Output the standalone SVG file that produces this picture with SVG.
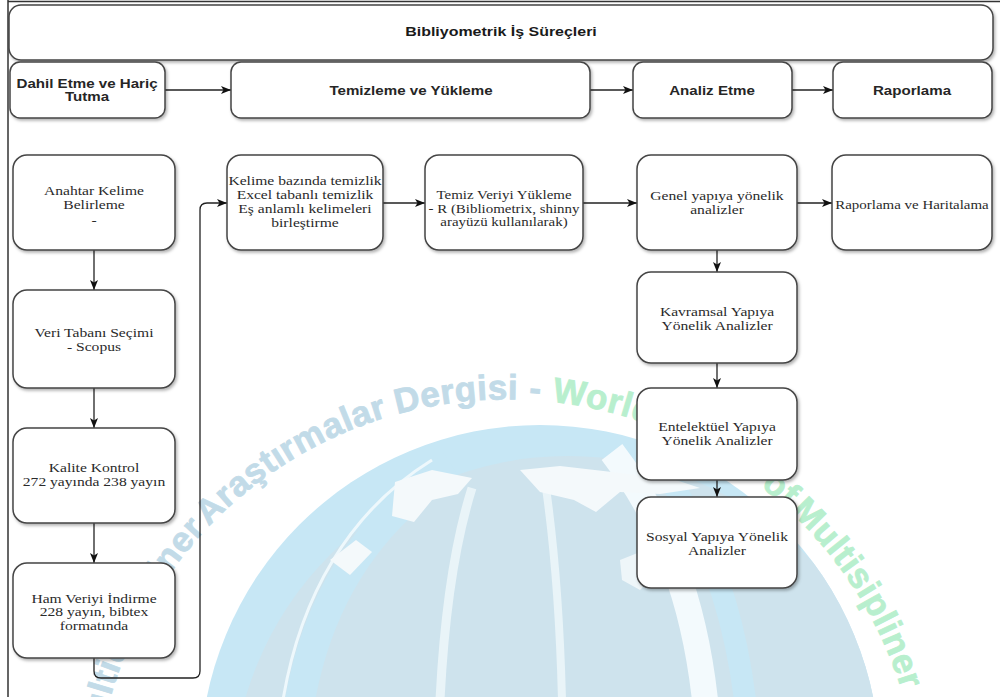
<svg xmlns="http://www.w3.org/2000/svg" width="1000" height="697" viewBox="0 0 1000 697">
<style>
.nd rect{fill:#fff;stroke:#444;stroke-width:1.5;filter:url(#sh)}
.b{font-family:"Liberation Sans",Arial,sans-serif;font-weight:bold;font-size:12.6px;fill:#262626;text-anchor:middle}
.t{font-family:"Liberation Sans",Arial,sans-serif;font-weight:bold;font-size:13.3px;fill:#1a1a1a;text-anchor:middle}
.s{font-family:"Liberation Serif","Times New Roman",serif;font-size:13px;fill:#2a2a2a;text-anchor:middle}
.ss{font-family:"Liberation Serif","Times New Roman",serif;font-size:11.5px;fill:#2a2a2a;text-anchor:middle}
.c{fill:none;stroke:#222;stroke-width:1.3;marker-end:url(#arr)}
.wm{font-family:"Liberation Sans",Arial,sans-serif;font-weight:bold;font-size:35px;letter-spacing:0.5px;stroke-width:0.8px}
.wb{fill:#c2dbe8;stroke:#c2dbe8}
.wg{fill:#b8efce;stroke:#b8efce}
</style>
<defs>
<filter id="sh" x="-10%" y="-10%" width="125%" height="130%">
<feDropShadow dx="1.5" dy="2" stdDeviation="1.4" flood-color="#000" flood-opacity="0.3"/>
</filter>
<marker id="arr" markerUnits="userSpaceOnUse" markerWidth="10" markerHeight="8" viewBox="0 0 10 8" refX="10" refY="4" orient="auto">
<path d="M0,0 L10,4 L0,8 L2.5,4 Z" fill="#111"/>
</marker>
<clipPath id="gc"><circle cx="540" cy="765" r="340"/></clipPath>
<path id="wmArc" d="M95.6,776 A413,413 0 0 1 918.4,776"/>
</defs>
<rect width="1000" height="697" fill="#fff"/>

<g id="watermark">
<circle cx="540" cy="765" r="340" fill="#c7e7f5"/>
<g clip-path="url(#gc)">
<circle cx="568" cy="792" r="336" fill="#cee3ed"/>
<path d="M300,700 C318,600 368,520 452,466" stroke="#c7e7f5" stroke-width="30" fill="none"/>
<path d="M283,700 C300,598 348,512 432,460" stroke="#eef8fc" stroke-width="3" fill="none"/>
<path d="M440,700 C444,620 454,545 472,488" stroke="#e9f4f8" stroke-width="9" fill="none"/>
<path d="M562,700 C560,620 554,545 546,488" stroke="#e9f4f8" stroke-width="8" fill="none"/>
<path d="M705,700 C694,600 664,520 612,452" stroke="#f3fafd" stroke-width="26" fill="none"/>
<path d="M745,700 C734,610 705,530 660,465" stroke="#c7e7f5" stroke-width="22" fill="none"/>
<path d="M395,482 L432,470 L472,478 L458,494 L432,500 L414,522 L392,516 Z" fill="#f4f9fb"/>
<path d="M520,470 L560,466 L612,472 L676,480 L700,488 L660,494 L620,492 L596,512 L574,500 L540,492 Z" fill="#f4f9fb"/>
<path d="M330,560 L356,540 L372,552 L350,575 Z" fill="#f4f9fb"/>
<path d="M620,560 L650,548 L664,566 L640,590 L622,580 Z" fill="#eef6f9"/>
</g>
<text class="wm wb"><textPath href="#wmArc" startOffset="30">Multidisipliner</textPath></text>
<text class="wm wb"><textPath href="#wmArc" startOffset="279">Araştırmalar</textPath></text>
<text class="wm wb"><textPath href="#wmArc" startOffset="501">Dergisi</textPath></text>
<text class="wm wb"><textPath href="#wmArc" startOffset="634">-</textPath></text>
<text class="wm wg"><textPath href="#wmArc" startOffset="657">World</textPath></text>
<text class="wm wg"><textPath href="#wmArc" startOffset="885">of</textPath></text>
<text class="wm wg" font-size="32" letter-spacing="0"><textPath href="#wmArc" startOffset="924">Multisipliner</textPath></text>
</g>

<g id="frame" stroke="#333" stroke-width="1.5" fill="none">
<path d="M8,0 V697 M8,1.5 H1000"/>
</g>

<g id="connectors">
<path class="c" d="M165,90 H231"/>
<path class="c" d="M590,90 H633"/>
<path class="c" d="M792,90 H833"/>
<path class="c" d="M94,250 V290"/>
<path class="c" d="M94,388 V428"/>
<path class="c" d="M94,523 V563"/>
<path class="c" d="M94,658 V671 Q94,678 101,678 H193 Q200,678 200,671 V210 Q200,203 207,203 H227"/>
<path class="c" d="M383,203 H425"/>
<path class="c" d="M583,203 H637"/>
<path class="c" d="M797,203 H832"/>
<path class="c" d="M717,250 V272"/>
<path class="c" d="M717,363 V388"/>
<path class="c" d="M717,480 V497"/>
</g>

<g id="n-title" class="nd"><rect x="9" y="5" width="984" height="55" rx="12"/>
<text class="t" transform="matrix(1.2 0 0 1 501 0)"><tspan x="0" y="36">Bibliyometrik İş Süreçleri</tspan></text></g>

<g id="n-dahil" class="nd"><rect x="10" y="62" width="155" height="56" rx="10"/>
<text class="b" transform="matrix(1.2 0 0 1 87 0)"><tspan x="0" y="88">Dahil Etme ve Hariç</tspan><tspan x="0" y="101">Tutma</tspan></text></g>

<g id="n-temizleme" class="nd"><rect x="231" y="62" width="359" height="56" rx="10"/>
<text class="b" transform="matrix(1.2 0 0 1 411 0)"><tspan x="0" y="95">Temizleme ve Yükleme</tspan></text></g>

<g id="n-analiz" class="nd"><rect x="633" y="62" width="159" height="56" rx="10"/>
<text class="b" transform="matrix(1.2 0 0 1 712 0)"><tspan x="0" y="95">Analiz Etme</tspan></text></g>

<g id="n-raporlama" class="nd"><rect x="833" y="62" width="159" height="56" rx="10"/>
<text class="b" transform="matrix(1.2 0 0 1 912 0)"><tspan x="0" y="95">Raporlama</tspan></text></g>

<g id="n-anahtar" class="nd"><rect x="13" y="155" width="162" height="95" rx="14"/>
<text class="s" transform="matrix(1.2 0 0 1 94 0)"><tspan x="0" y="195">Anahtar Kelime</tspan><tspan x="0" y="209">Belirleme</tspan><tspan x="0" y="224">-</tspan></text></g>

<g id="n-veri" class="nd"><rect x="13" y="290" width="162" height="98" rx="14"/>
<text class="s" transform="matrix(1.2 0 0 1 94 0)"><tspan x="0" y="337">Veri Tabanı Seçimi</tspan><tspan x="0" y="351">- Scopus</tspan></text></g>

<g id="n-kalite" class="nd"><rect x="13" y="428" width="162" height="95" rx="14"/>
<text class="s" transform="matrix(1.2 0 0 1 94 0)"><tspan x="0" y="472">Kalite Kontrol</tspan><tspan x="0" y="486">272 yayında 238 yayın</tspan></text></g>

<g id="n-ham" class="nd"><rect x="13" y="563" width="162" height="95" rx="14"/>
<text class="s" transform="matrix(1.2 0 0 1 94 0)"><tspan x="0" y="603">Ham Veriyi İndirme</tspan><tspan x="0" y="616">228 yayın, bibtex</tspan><tspan x="0" y="630">formatında</tspan></text></g>

<g id="n-kelime" class="nd"><rect x="227" y="155" width="156" height="95" rx="14"/>
<text class="s" transform="matrix(1.2 0 0 1 305 0)"><tspan x="0" y="185">Kelime bazında temizlik</tspan><tspan x="0" y="199">Excel tabanlı temizlik</tspan><tspan x="0" y="213">Eş anlamlı kelimeleri</tspan><tspan x="0" y="227">birleştirme</tspan></text></g>

<g id="n-temiz" class="nd"><rect x="425" y="155" width="158" height="95" rx="14"/>
<text class="s" font-size="12.5" transform="matrix(1.15 0 0 1 504 0)"><tspan x="0" y="199">Temiz Veriyi Yükleme</tspan></text>
<text class="ss" transform="matrix(1.3 0 0 1 504 0)"><tspan x="0" y="213">- R (Bibliometrix, shinny</tspan><tspan x="0" y="226">arayüzü kullanılarak)</tspan></text></g>

<g id="n-genel" class="nd"><rect x="637" y="155" width="160" height="95" rx="14"/>
<text class="s" transform="matrix(1.2 0 0 1 717 0)"><tspan x="0" y="200">Genel yapıya yönelik</tspan><tspan x="0" y="214">analizler</tspan></text></g>

<g id="n-harita" class="nd"><rect x="832" y="155" width="160" height="95" rx="14"/>
<text class="ss" transform="matrix(1.3 0 0 1 912 0)"><tspan x="0" y="209">Raporlama ve Haritalama</tspan></text></g>

<g id="n-kavramsal" class="nd"><rect x="637" y="272" width="160" height="91" rx="14"/>
<text class="s" transform="matrix(1.2 0 0 1 717 0)"><tspan x="0" y="316">Kavramsal Yapıya</tspan><tspan x="0" y="330">Yönelik Analizler</tspan></text></g>

<g id="n-entelektuel" class="nd"><rect x="637" y="388" width="160" height="92" rx="14"/>
<text class="s" transform="matrix(1.2 0 0 1 717 0)"><tspan x="0" y="431">Entelektüel Yapıya</tspan><tspan x="0" y="445">Yönelik Analizler</tspan></text></g>

<g id="n-sosyal" class="nd"><rect x="637" y="497" width="160" height="91" rx="14"/>
<text class="s" transform="matrix(1.2 0 0 1 717 0)"><tspan x="0" y="541">Sosyal Yapıya Yönelik</tspan><tspan x="0" y="555">Analizler</tspan></text></g>
</svg>
